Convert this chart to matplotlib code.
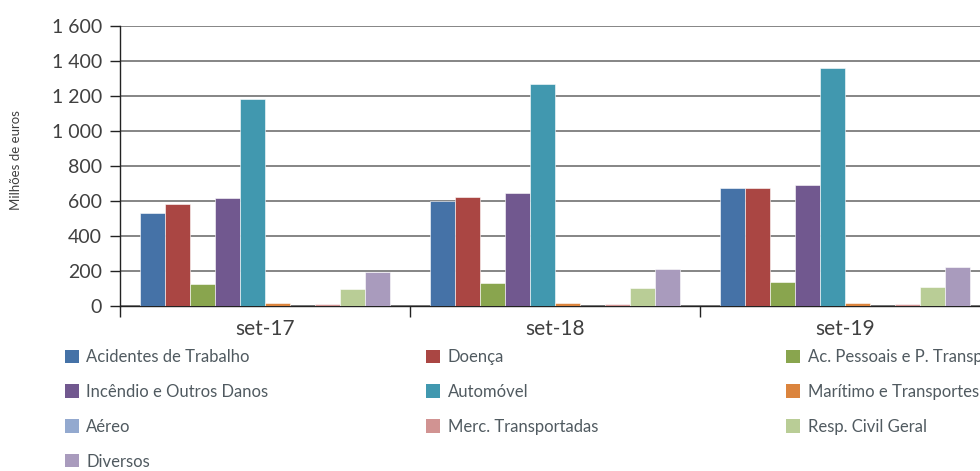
import matplotlib
matplotlib.use("Agg")
import matplotlib.pyplot as plt
import numpy as np
from matplotlib.ticker import FuncFormatter, FixedLocator
from matplotlib.patches import Patch

plt.rcParams['font.family'] = ['Lato', 'DejaVu Sans']

periods = ["set-17", "set-18", "set-19"]
lines = ["Acidentes de Trabalho", "Doença", "Ac. Pessoais e P. Transportados",
         "Incêndio e Outros Danos", "Automóvel", "Marítimo e Transportes",
         "Aéreo", "Merc. Transportadas", "Resp. Civil Geral", "Diversos"]
colors = ["#4572A7", "#AA4643", "#89A54E", "#71588F", "#4198AF",
          "#DB843D", "#93A9CF", "#D19392", "#B9CD96", "#A99BBD"]

# milhões de euros, por ramo (set-17, set-18, set-19)
acidentes = [531, 600, 672]
doenca = [583, 621, 672]
ac_pessoais = [124, 130, 137]
incendio = [615, 644, 690]
automovel = [1183, 1269, 1360]
maritimo = [15, 17, 17]
aereo = [1, 2, 2]
merc = [10, 11, 11]
resp_civil = [95, 103, 109]
diversos = [196, 210, 223]

series = [acidentes, doenca, ac_pessoais, incendio, automovel,
          maritimo, aereo, merc, resp_civil, diversos]

fig = plt.figure(figsize=(9.8, 4.71), dpi=100)
ax = fig.add_axes([0.1224, 0.3503, 0.888, 0.5945])

x = np.arange(len(periods))
w = 0.0862
handles = []
for i, vals in enumerate(series):
    ax.bar(x + (i - 4.5) * w, vals, w, color=colors[i], edgecolor="white",
           linewidth=0.4, zorder=3, label=lines[i])
    handles.append(Patch(facecolor=colors[i], label=lines[i]))

ax.set_xlim(-0.5, 2.5)
ax.set_ylim(0, 1600)
ax.set_yticks(np.arange(0, 1601, 200))
ax.yaxis.set_major_formatter(FuncFormatter(lambda v, p: f"{int(v):,}".replace(",", " ")))
ax.yaxis.grid(True, color="#858585", linewidth=1.4, zorder=0)
ax.set_xticks(x)
ax.set_xticklabels(periods)
ax.xaxis.set_minor_locator(FixedLocator([-0.5, 0.5, 1.5, 2.5]))
ax.tick_params(axis="x", which="major", length=0, labelsize=15, labelcolor="#404040", pad=9)
ax.tick_params(axis="x", which="minor", length=8, width=1, color="#222222", direction="out")
ax.tick_params(axis="y", length=7, width=1, color="#222222", labelsize=14,
               labelcolor="#404040", pad=6)
for s in ["top", "right"]:
    ax.spines[s].set_visible(False)
for s in ["left", "bottom"]:
    ax.spines[s].set_color("#222222")
    ax.spines[s].set_linewidth(1)

fig.text(0.016, 0.66, "Milhões de euros", rotation=90, fontsize=9.5,
         color="#404040", ha="center", va="center")

# legenda em três colunas, preenchida por linhas
col_x = [0.066, 0.435, 0.802]
for c in range(3):
    idx = list(range(c, len(lines), 3))
    fig.legend(handles=[handles[k] for k in idx], loc="upper left",
               bbox_to_anchor=(col_x[c], 0.259), frameon=False, fontsize=12,
               handlelength=0.85, handleheight=0.85, handletextpad=0.45,
               labelspacing=1.13, borderpad=0, borderaxespad=0,
               labelcolor="#505a60")

fig.savefig("out.png", dpi=100)
